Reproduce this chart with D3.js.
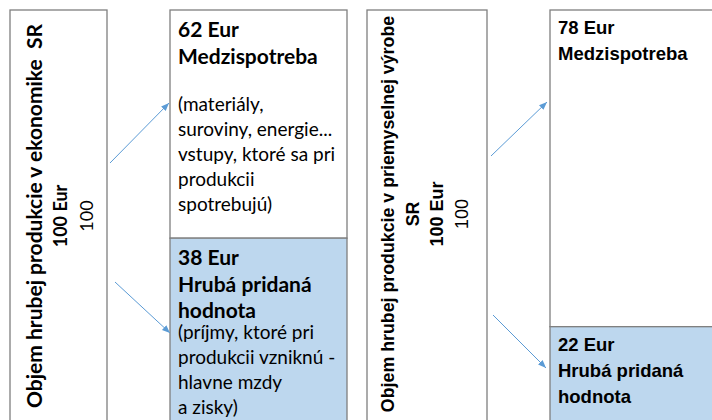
<!DOCTYPE html>
<html><head><meta charset="utf-8">
<script src="https://cdn.jsdelivr.net/npm/d3@7"></script>
<style>body{margin:0;background:#fff}svg text{white-space:pre}</style>
</head><body>
<svg id="s" width="712" height="420"></svg>
<script>
// ---------- data ----------
const sourceLabels = ["Objem hrubej produkcie v ekonomike  SR", "Objem hrubej produkcie v priemyselnej výrobe\nSR"];
const sourceTotals = [100, 100];
const categories = ["Medzispotreba", "Hrubá pridaná\nhodnota"];
const economyValues = [62, 38];
const industryValues = [78, 22];
const economyNotes = [
  ["(materiály,", "suroviny, energie...", "vstupy, ktoré sa pri", "produkcii", "spotrebujú)"],
  ["(príjmy, ktoré pri", "produkcii vzniknú -", "hlavne mzdy", "a zisky)"]
];
const industryNotes = [[], []];
const unit = "Eur";

// ---------- layout ----------
const W = 712, H = 420;
const svg = d3.select("#s");
const stroke = "#7f7f7f", fillColors = ["#ffffff", "#bdd7ee"], arrowColor = "#5b9bd5";

svg.append("defs").append("marker")
  .attr("id", "ah").attr("viewBox", "0 -4 8 8").attr("refX", 8).attr("refY", 0)
  .attr("markerWidth", 8).attr("markerHeight", 8).attr("markerUnits", "userSpaceOnUse")
  .attr("orient", "auto")
  .append("path").attr("d", "M0,-3.2L8,0L0,3.2Z").attr("fill", arrowColor);

const panels = [
  { values: economyValues, notes: economyNotes, total: sourceTotals[0], label: sourceLabels[0],
    font: "Lato, 'Open Sans', sans-serif",
    src: { x0: 10, x1: 107, cy: 216, col0: 33, colStep: 26.5, titleSize: 21, subSize: 18, numSize: 18 },
    seg: { x0: 170, x1: 347, top: 10, bottom: 378, pad: 8, headSize: 21, bodySize: 19,
           first: 27, boldStep: 26.5, toBody: 20.5, bodyStep: 25.2, blankAfterHead: true },
    arrows: [[110, 163, 169, 103], [115, 282, 170, 333]] },
  { values: industryValues, notes: industryNotes, total: sourceTotals[1], label: sourceLabels[1],
    font: "'Liberation Sans', Arial, sans-serif",
    src: { x0: 367, x1: 487, cy: 214, col0: 388, colStep: 24.5, titleSize: 17.8, subSize: 18, numSize: 18 },
    seg: { x0: 550, x1: 740, top: 10, bottom: 416, pad: 8, headSize: 18.5, bodySize: 18.5,
           first: 24, boldStep: 26, toBody: 20, bodyStep: 25, blankAfterHead: false },
    arrows: [[491, 156, 547, 102], [493, 315, 546, 368]] }
];

panels.forEach(p => {
  const g = svg.append("g");
  const y = d3.scaleLinear().domain([0, p.total]).range([p.seg.top, p.seg.bottom]);

  // source box (extends below the visible area)
  g.append("rect")
    .attr("x", p.src.x0).attr("y", y(0))
    .attr("width", p.src.x1 - p.src.x0).attr("height", H + 20 - y(0))
    .attr("fill", "#fff").attr("stroke", stroke).attr("stroke-width", 1.3);

  // vertical source label
  const srcLines = p.label.split("\n").map(t => ({ t, w: "bold", s: p.src.titleSize }))
    .concat([{ t: p.total + " " + unit, w: "bold", s: p.src.subSize }, { t: String(p.total), w: "normal", s: p.src.numSize }]);
  srcLines.forEach((l, i) => {
    const cx = p.src.col0 + i * p.src.colStep;
    g.append("text")
      .attr("transform", `translate(${cx},${p.src.cy}) rotate(-90)`)
      .attr("text-anchor", "middle").attr("dominant-baseline", "central")
      .style("font-family", p.font).style("font-weight", l.w).style("font-size", l.s + "px")
      .attr("fill", "#000").text(l.t);
  });

  // stacked segments
  let cum = 0;
  const segs = p.values.map((v, i) => { const s = { v, i, start: cum, end: cum + v }; cum += v; return s; });
  segs.forEach(s => {
    const last = s.i === segs.length - 1;
    const yTop = y(s.start);
    const yBot = last ? H + 20 : y(s.end);
    g.append("rect")
      .attr("x", p.seg.x0).attr("y", yTop)
      .attr("width", p.seg.x1 - p.seg.x0).attr("height", yBot - yTop)
      .attr("fill", fillColors[s.i]).attr("stroke", stroke).attr("stroke-width", 1.3);

    const head = [s.v + " " + unit].concat(categories[s.i].split("\n"));
    const notes = p.notes[s.i] || [];
    let by = yTop + p.seg.first;
    const tx = p.seg.x0 + p.seg.pad;
    head.forEach((t, k) => {
      if (k > 0) by += p.seg.boldStep;
      g.append("text").attr("x", tx).attr("y", by)
        .style("font-family", p.font).style("font-weight", "bold").style("font-size", p.seg.headSize + "px")
        .attr("fill", "#000").text(t);
    });
    if (notes.length) {
      if (p.seg.blankAfterHead && s.i === 0) by += p.seg.boldStep;
      notes.forEach((t, k) => {
        by += k === 0 ? p.seg.toBody : p.seg.bodyStep;
        g.append("text").attr("x", tx).attr("y", by)
          .style("font-family", p.font).style("font-weight", "normal").style("font-size", p.seg.bodySize + "px")
          .attr("fill", "#000").text(t);
      });
    }
  });

  // connector arrows
  p.arrows.forEach(a => {
    g.append("line").attr("x1", a[0]).attr("y1", a[1]).attr("x2", a[2]).attr("y2", a[3])
      .attr("stroke", arrowColor).attr("stroke-width", 1).attr("marker-end", "url(#ah)");
  });
});
</script></body></html>
